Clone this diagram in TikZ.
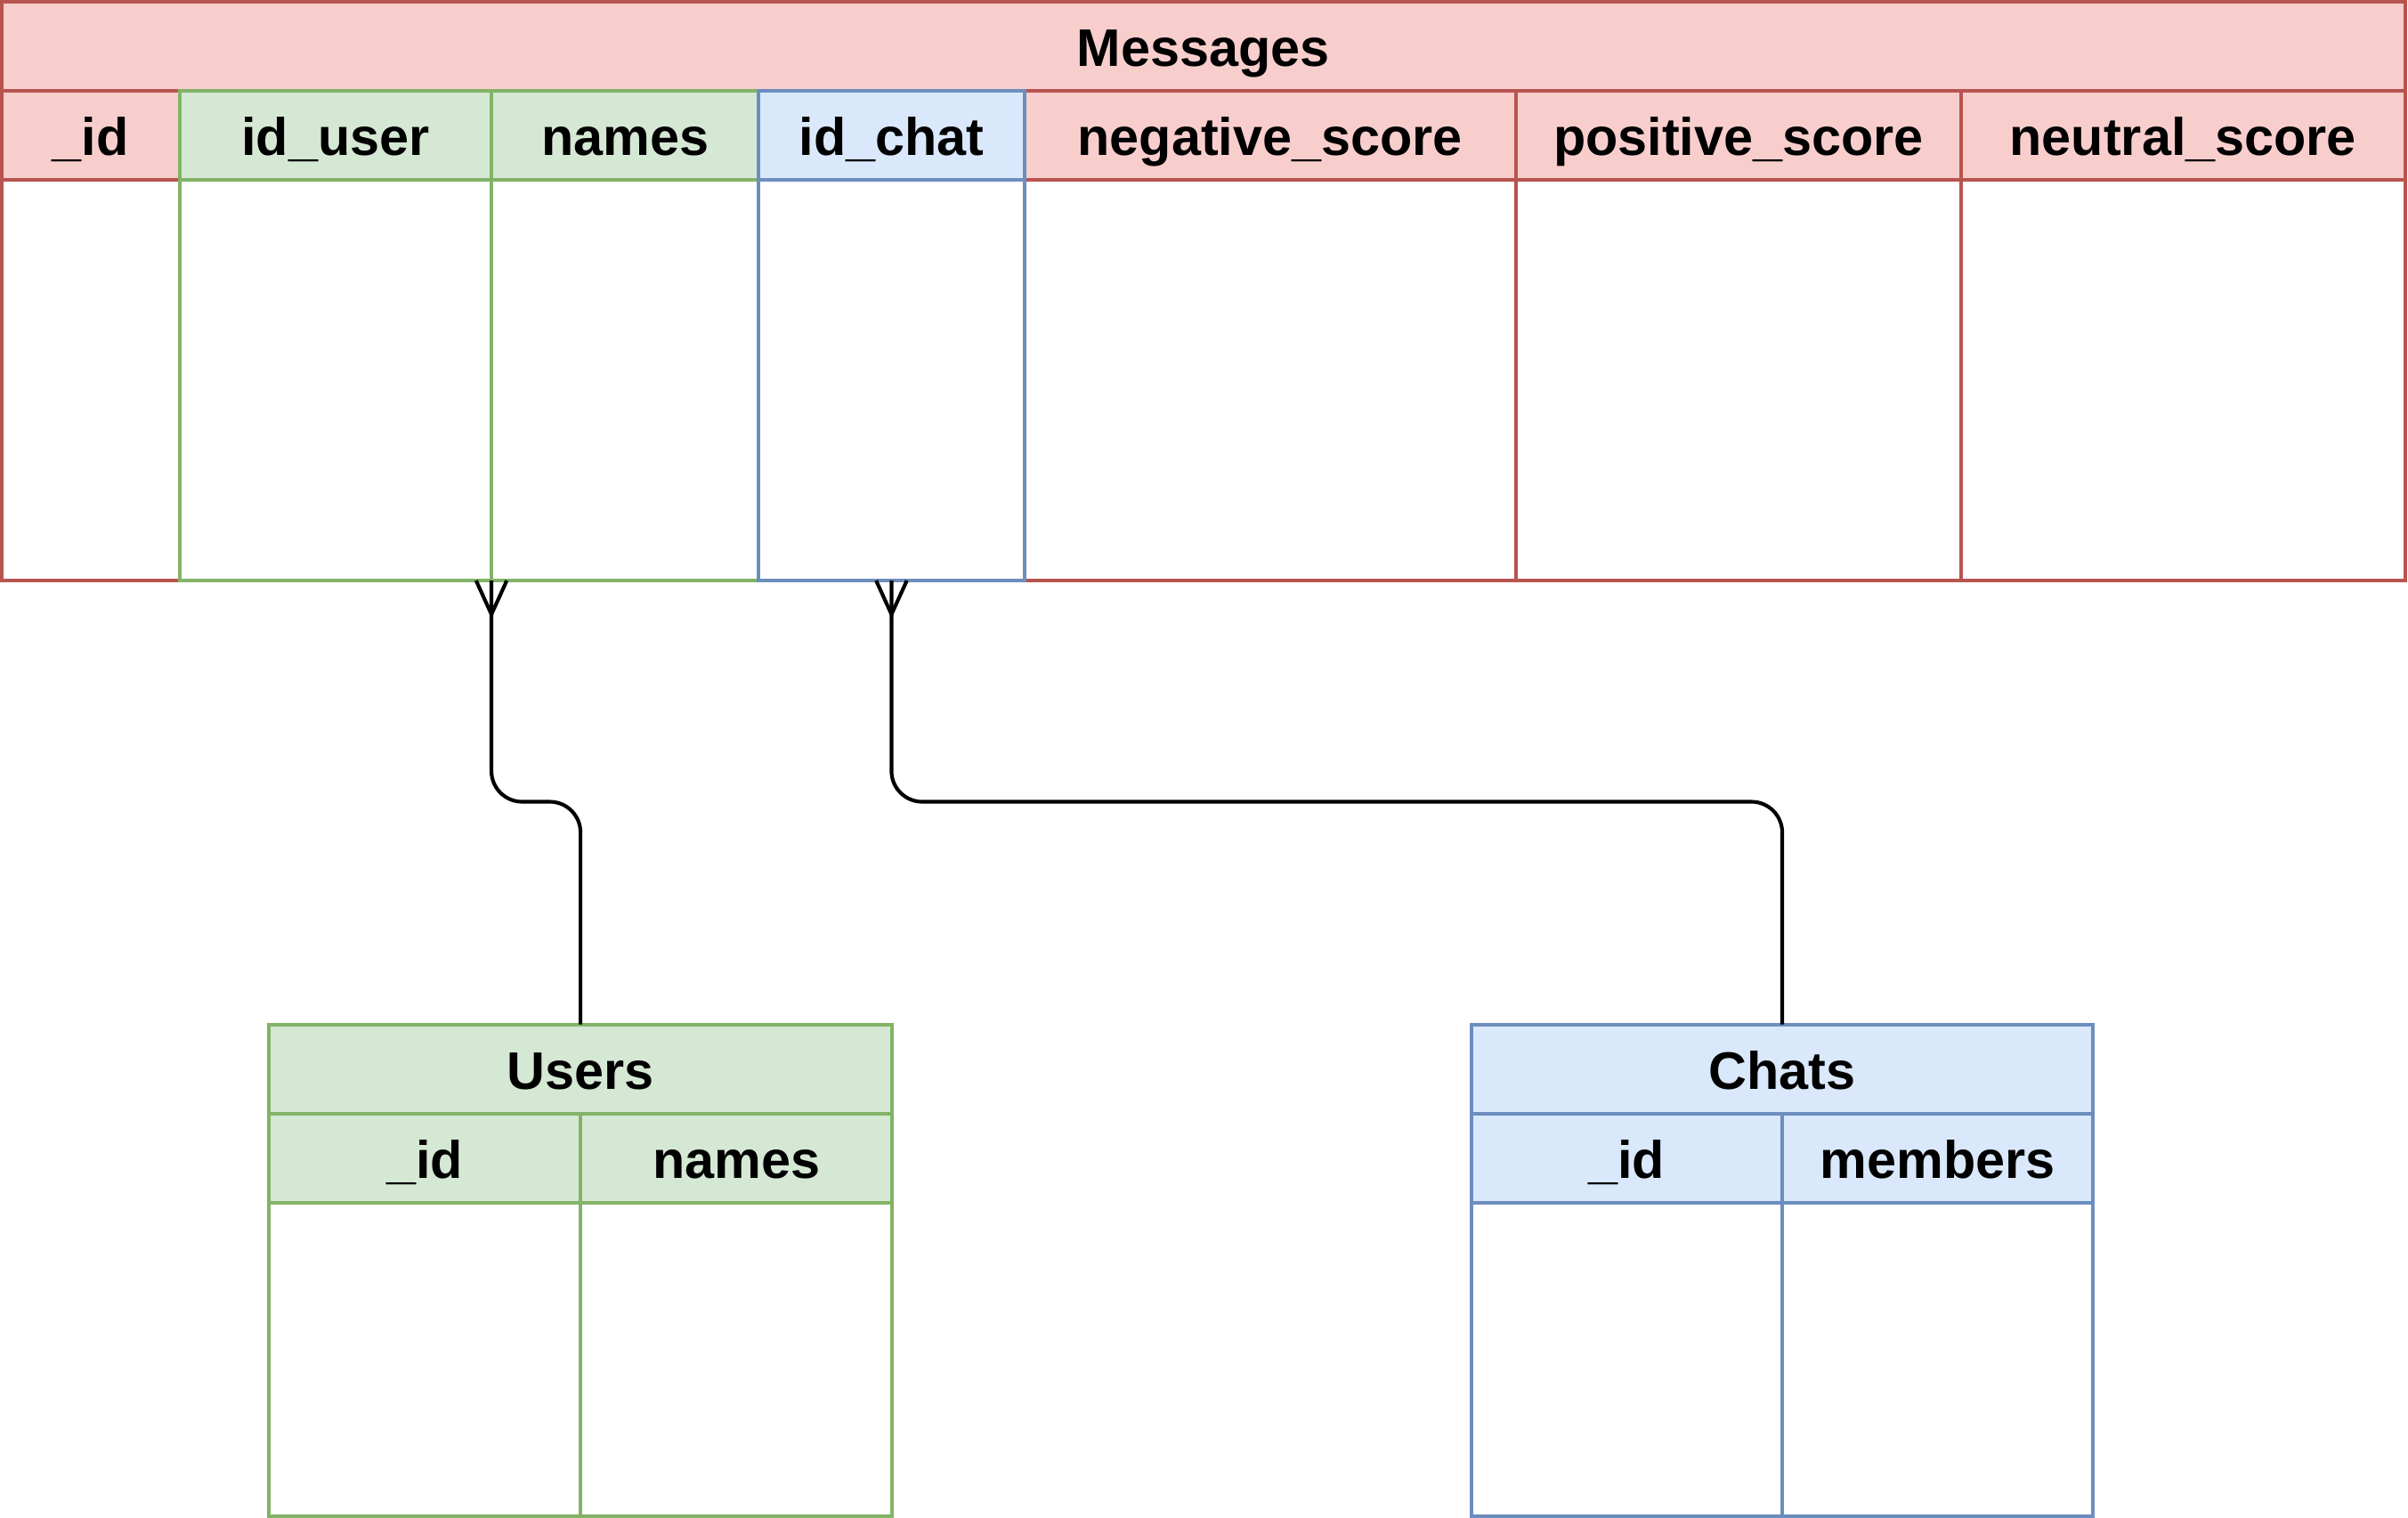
\documentclass[tikz,border=0pt]{standalone}
\usepackage{fontspec}
\setmainfont{Liberation Sans}
\definecolor{rfill}{HTML}{F8CECC}
\definecolor{rstroke}{HTML}{B85450}
\definecolor{gfill}{HTML}{D5E8D4}
\definecolor{gstroke}{HTML}{82B366}
\definecolor{bfill}{HTML}{DAE8FC}
\definecolor{bstroke}{HTML}{6C8EBF}
\begin{document}
\begin{tikzpicture}[x=0.5pt,y=-0.5pt,
  cell/.style={draw, line width=1.15pt, inner sep=0pt, outer sep=0pt, anchor=north west,
    font=\fontsize{17.2}{20}\selectfont\bfseries, text height=17.4pt, text depth=4pt, align=center},
  redhead/.style={cell, draw=rstroke, fill=rfill},
  redbody/.style={cell, draw=rstroke, fill=white},
  greenhead/.style={cell, draw=gstroke, fill=gfill},
  greenbody/.style={cell, draw=gstroke, fill=white},
  bluehead/.style={cell, draw=bstroke, fill=bfill},
  bluebody/.style={cell, draw=bstroke, fill=white},
  conn/.style={draw=black, line width=1.2pt},
  hrow/.style={minimum height=29pt},
  brow/.style={minimum height=130.5pt},
  srow/.style={minimum height=102pt}
]
\useasboundingbox (0,0) rectangle (1568,988.3);

% ---------- Messages ----------
\node[redhead, hrow, minimum width=782.5pt] (msgtitle) at (1,1) {Messages};
% red columns
\node[redhead, hrow, minimum width=58pt] (midh) at (1,59) {\_id};
\node[redbody, brow, minimum width=58pt] (midb) at (1,117) {};
\node[redhead, hrow, minimum width=160pt] (negh) at (667,59) {negative\_score};
\node[redbody, brow, minimum width=160pt] (negb) at (667,117) {};
\node[redhead, hrow, minimum width=145pt] (posh) at (987,59) {positive\_score};
\node[redbody, brow, minimum width=145pt] (posb) at (987,117) {};
\node[redhead, hrow, minimum width=144.5pt] (neuh) at (1277,59) {neutral\_score};
\node[redbody, brow, minimum width=144.5pt] (neub) at (1277,117) {};
% green columns
\node[greenhead, hrow, minimum width=101.5pt] (iduserh) at (117,59) {id\_user};
\node[greenbody, brow, minimum width=101.5pt] (iduserb) at (117,117) {};
\node[greenhead, hrow, minimum width=87pt] (namesh) at (320,59) {names};
\node[greenbody, brow, minimum width=87pt] (namesb) at (320,117) {};
% blue column
\node[bluehead, hrow, minimum width=86.5pt] (idchath) at (494,59) {id\_chat};
\node[bluebody, brow, minimum width=86.5pt] (idchatb) at (494,117) {};

% ---------- Users ----------
\node[greenhead, hrow, minimum width=203pt] (users) at (175,667) {Users};
\node[greenhead, hrow, minimum width=101.5pt] (uidh) at (175,725) {\_id};
\node[greenbody, srow, minimum width=101.5pt] (uidb) at (175,783) {};
\node[greenhead, hrow, minimum width=101.5pt] (unamesh) at (378,725) {names};
\node[greenbody, srow, minimum width=101.5pt] (unamesb) at (378,783) {};

% ---------- Chats ----------
\node[bluehead, hrow, minimum width=202.5pt] (chats) at (958,667) {Chats};
\node[bluehead, hrow, minimum width=101.25pt] (cidh) at (958,725) {\_id};
\node[bluebody, srow, minimum width=101.25pt] (cidb) at (958,783) {};
\node[bluehead, hrow, minimum width=101.25pt] (cmemh) at (1160.5,725) {members};
\node[bluebody, srow, minimum width=101.25pt] (cmemb) at (1160.5,783) {};

% ---------- connectors ----------
\coordinate (ylevel) at (0,522);
\draw[conn, rounded corners=10pt] (iduserb.south east) -- (iduserb.south east |- ylevel)
  -- (users.north |- ylevel) -- (users.north);
\draw[conn, rounded corners=10pt] (idchatb.south) -- (idchatb.south |- ylevel)
  -- (chats.north |- ylevel) -- (chats.north);
% crow's feet
\draw[conn] ([xshift=-5pt]iduserb.south east) -- ([yshift=-11pt]iduserb.south east)
  -- ([xshift=5pt]iduserb.south east);
\draw[conn] ([xshift=-5pt]idchatb.south) -- ([yshift=-11pt]idchatb.south)
  -- ([xshift=5pt]idchatb.south);
\end{tikzpicture}
\end{document}
